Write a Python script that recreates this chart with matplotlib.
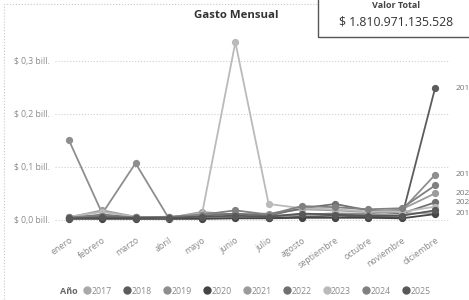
import matplotlib
matplotlib.use('Agg')
import matplotlib.pyplot as plt
from matplotlib.lines import Line2D
from matplotlib.patches import Rectangle

plt.rcParams['font.family'] = ['Open Sans', 'DejaVu Sans']

# Data (billones de pesos)
meses = ['enero', 'febrero', 'marzo', 'abril', 'mayo', 'junio', 'julio',
         'agosto', 'septiembre', 'octubre', 'noviembre', 'diciembre']
anios = ['2017', '2018', '2019', '2020', '2021', '2022', '2023', '2024', '2025']

v2017 = [0.004, 0.006, 0.004, 0.003, 0.005, 0.006, 0.008, 0.010, 0.012, 0.010, 0.012, 0.013]
v2018 = [0.003, 0.004, 0.003, 0.003, 0.004, 0.005, 0.004, 0.006, 0.008, 0.006, 0.005, 0.248]
v2019 = [0.150, 0.012, 0.107, 0.003, 0.004, 0.005, 0.006, 0.010, 0.012, 0.012, 0.018, 0.085]
v2020 = [0.002, 0.002, 0.002, 0.002, 0.002, 0.003, 0.003, 0.004, 0.004, 0.004, 0.003, 0.011]
v2021 = [0.005, 0.018, 0.006, 0.004, 0.015, 0.010, 0.012, 0.020, 0.018, 0.015, 0.020, 0.050]
v2022 = [0.004, 0.010, 0.005, 0.005, 0.008, 0.012, 0.008, 0.022, 0.030, 0.018, 0.012, 0.033]
v2023 = [0.006, 0.015, 0.006, 0.005, 0.012, 0.335, 0.030, 0.022, 0.020, 0.016, 0.015, 0.025]
v2024 = [0.005, 0.008, 0.005, 0.006, 0.010, 0.018, 0.010, 0.026, 0.024, 0.020, 0.022, 0.065]
v2025 = [0.003, 0.005, 0.004, 0.004, 0.006, 0.008, 0.006, 0.012, 0.010, 0.008, 0.008, 0.018]
series = [v2017, v2018, v2019, v2020, v2021, v2022, v2023, v2024, v2025]

colores = ['#a9a9a9', '#5c5c5c', '#8e8e8e', '#454545', '#9c9c9c',
           '#707070', '#bababa', '#808080', '#585858']

# end labels as far as they show at the right edge
etiquetas = {'2018': '201', '2019': '201', '2021': '202', '2022': '202', '2017': '201'}

fig = plt.figure(figsize=(4.69, 3.0), dpi=100)
ax = fig.add_axes([55 / 469, 1 - 230 / 300, 395 / 469, 200 / 300])

x = list(range(len(meses)))
for anio, vals, c in zip(anios, series, colores):
    ax.plot(x, vals, color=c, lw=1.3, marker='o', ms=4.2, zorder=3)
    if anio in etiquetas:
        ax.annotate(etiquetas[anio], (x[-1], vals[-1]), xytext=(14.5, 0),
                    textcoords='offset points', va='center', ha='left',
                    fontsize=6, color='#777777', annotation_clip=False)

ax.set_xlim(-0.42, 11.45)
ax.set_ylim(-0.019, 0.358)
ax.set_yticks([0.0, 0.1, 0.2, 0.3])
ax.set_yticklabels(['$ 0,0 bill.', '$ 0,1 bill.', '$ 0,2 bill.', '$ 0,3 bill.'],
                   fontsize=6.2, color='#8a8a8a')
ax.set_xticks(x)
ax.set_xticklabels(meses, rotation=35, ha='right', rotation_mode='anchor',
                   fontsize=6.3, color='#8a8a8a')
ax.tick_params(length=0, pad=4)
ax.grid(axis='y', color='#cfcfcf', linestyle=':', lw=0.8)
ax.set_axisbelow(True)
for s in ax.spines.values():
    s.set_visible(False)

fig.text(236 / 469, 1 - 16 / 300, 'Gasto Mensual', ha='center', va='center',
         fontsize=8.2, fontweight='bold', color='#333333')

# card with total value
fig.patches.append(Rectangle((318 / 469, 1 - 37 / 300), 0.4, 0.2,
                             transform=fig.transFigure, fill=True,
                             facecolor='white', edgecolor='#555555', lw=1.0, zorder=5))
fig.text(396 / 469, 1 - 6 / 300, 'Valor Total', ha='center', va='center',
         fontsize=6.5, fontweight='bold', color='#444444', zorder=6)
fig.text(396 / 469, 1 - 22 / 300, '$ 1.810.971.135.528', ha='center', va='center',
         fontsize=8.8, color='#333333', zorder=6)

# outer dotted frame
fig.patches.append(Rectangle((4 / 469, -0.1), 1.0, 1 - 4 / 300 + 0.1,
                             transform=fig.transFigure, fill=False,
                             edgecolor='#c8c8c8', lw=0.8, linestyle=':', zorder=0))

# legend
fig.text(60 / 469, 1 - 291 / 300, 'Año', ha='left', va='center',
         fontsize=6.5, color='#666666', fontweight='bold')
handles = [Line2D([], [], color=c, marker='o', lw=0, ms=5) for c in colores]
fig.legend(handles, anios, loc='center left', bbox_to_anchor=(83 / 469, 1 - 291 / 300),
           ncol=9, frameon=False, fontsize=6.3, handletextpad=0.0,
           columnspacing=1.25, handlelength=1.0, labelcolor='#8a8a8a',
           borderaxespad=0, borderpad=0)

fig.savefig('out.png', dpi=100)
